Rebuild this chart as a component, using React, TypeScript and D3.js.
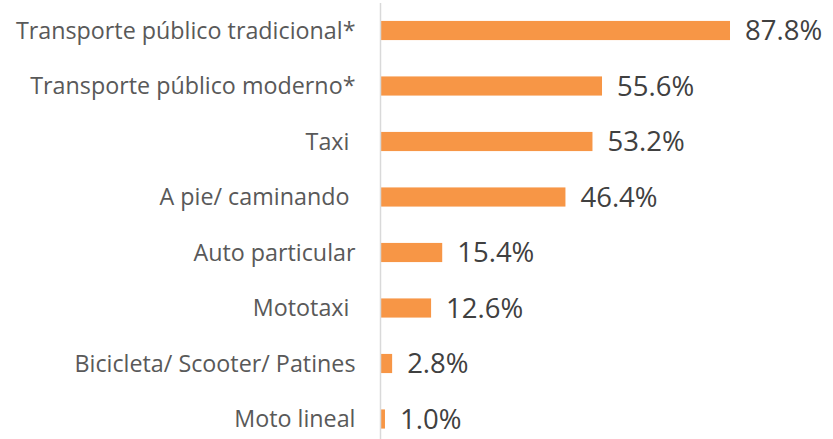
import React from "react";
import * as d3 from "d3";

const WIDTH = 833;
const HEIGHT = 439;

const categories = [
  "Transporte público tradicional*",
  "Transporte público moderno*",
  "Taxi ",
  "A pie/ caminando ",
  "Auto particular",
  "Mototaxi ",
  "Bicicleta/ Scooter/ Patines",
  "Moto lineal",
];
const values = [87.8, 55.6, 53.2, 46.4, 15.4, 12.6, 2.8, 1.0];

const AXIS_X = 380.5;

export default function App() {
  const x = d3.scaleLinear().domain([0, 100]).range([AXIS_X + 0.5, AXIS_X + 0.5 + 397.5]);
  const y = d3
    .scaleBand()
    .domain(categories)
    .range([2.75, 446.75])
    .paddingInner(0.655)
    .paddingOuter(0.3275);

  return (
    <svg
      width={WIDTH}
      height={HEIGHT}
      style={{ position: "absolute", left: 0, top: 0, background: "#fff" }}
      fontFamily="'Open Sans', sans-serif"
    >
      {categories.map((c, i) => {
        const yc = (y(c) ?? 0) + y.bandwidth() / 2;
        return (
          <g key={c}>
            <rect
              x={x(0)}
              y={y(c)}
              width={x(values[i]) - x(0)}
              height={y.bandwidth()}
              fill="#F79646"
            />
            <text
              x={AXIS_X - 25}
              y={yc}
              dy="0.35em"
              textAnchor="end"
              fontSize={23.3}
              fill="#595959"
              style={{ whiteSpace: "pre" }}
            >
              {c}
            </text>
            <text
              x={x(values[i]) + 15}
              y={yc}
              dy="0.36em"
              fontSize={27.5}
              fill="#404040"
            >
              {d3.format(".1f")(values[i])}%
            </text>
          </g>
        );
      })}
      <line x1={AXIS_X} x2={AXIS_X} y1={3} y2={HEIGHT} stroke="#D9D9D9" strokeWidth={1.5} />
    </svg>
  );
}
